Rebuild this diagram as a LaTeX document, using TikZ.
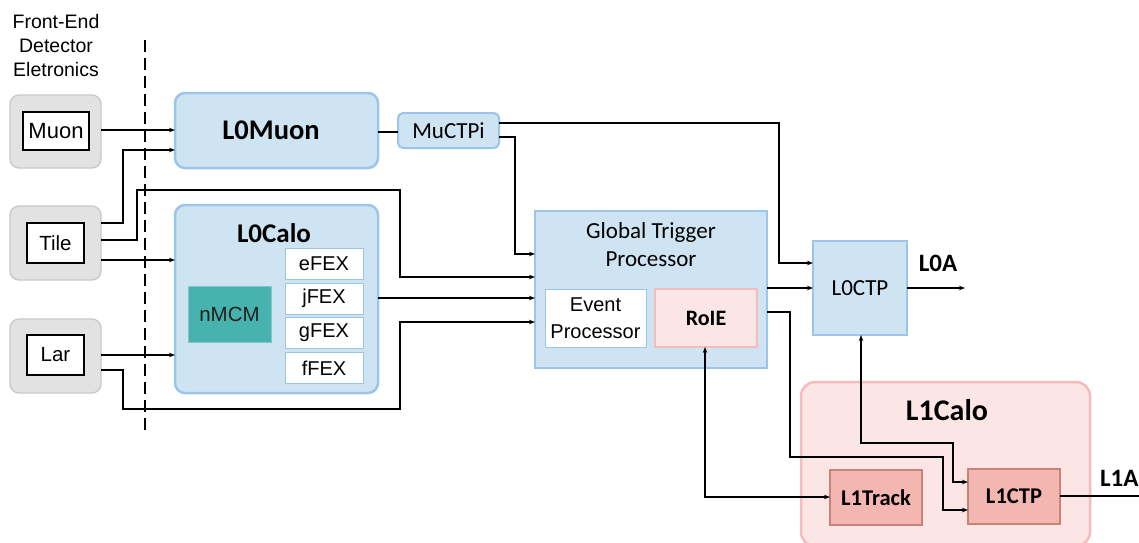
\documentclass[tikz,border=0pt]{standalone}
\usepackage{fontspec}
\setmainfont{Liberation Sans}
\newfontfamily\carl{Carlito}
\usetikzlibrary{arrows.meta}
\definecolor{bfill}{RGB}{207,228,243}
\definecolor{bdraw}{RGB}{157,197,232}
\definecolor{gfill}{RGB}{226,226,226}
\definecolor{gdraw}{RGB}{200,200,200}
\definecolor{pfill}{RGB}{252,229,229}
\definecolor{pdraw}{RGB}{245,188,188}
\definecolor{sfill}{RGB}{243,182,176}
\definecolor{sdraw}{RGB}{200,130,120}
\definecolor{teal2}{RGB}{72,178,174}
\tikzset{
  every node/.style={inner sep=0pt, outer sep=0pt},
  box/.style={draw, line width=1.3pt, align=center},
  grey/.style={box, fill=gfill, draw=gdraw, rounded corners=9pt},
  inner/.style={box, fill=white, draw=black, line width=1.3pt, font=\fontsize{20.5}{24}\selectfont},
  blueR/.style={box, fill=bfill, draw=bdraw, line width=2.5pt, rounded corners=10pt},
  blueS/.style={box, fill=bfill, draw=bdraw, line width=2.5pt},
  fex/.style={box, fill=white, draw=bdraw, line width=1pt, font=\fontsize{20}{24}\selectfont, minimum width=78pt, minimum height=31pt},
  salmon/.style={box, fill=sfill, draw=sdraw, line width=1.3pt, font=\carl\bfseries\fontsize{22.5}{26}\selectfont, minimum width=92pt, minimum height=55pt},
  conn/.style={line width=1.2pt},
  arr/.style={conn, -{Stealth[length=6pt,width=4.5pt]}},
  darr/.style={conn, {Stealth[length=6pt,width=4.5pt]}-{Stealth[length=6pt,width=4.5pt]}},
  title/.style={font=\carl\bfseries\fontsize{27}{30}\selectfont},
}
\begin{document}
\begin{tikzpicture}[x=1pt,y=-1pt]
\useasboundingbox (0,0) rectangle (1139,542);
% header
\node[align=center, font=\fontsize{19.5}{24}\selectfont] (fe) at (56,46) {Front-End\\Detector\\Eletronics};
\coordinate (dtop) at (145,40);
\coordinate (dbot) at (145,435);
\draw[line width=1.2pt, dash pattern=on 12pt off 6pt] (dtop) -- (dbot);
% detector boxes
\node[grey, minimum width=91pt, minimum height=73pt] (muon) at (55.5,131.5) {};
\node[inner, minimum width=66pt, minimum height=38pt, font=\fontsize{22}{24}\selectfont] (muonin) at (56,131) {Muon};
\node[grey, minimum width=91pt, minimum height=74pt] (tile) at (55.5,243) {};
\node[inner, minimum width=57pt, minimum height=40pt] (tilein) at (55.5,243) {Tile};
\node[grey, minimum width=91pt, minimum height=74pt] (lar) at (55.5,356) {};
\node[inner, minimum width=57pt, minimum height=40pt] (larin) at (55.5,355) {Lar};
% L0Muon
\node[blueR, minimum width=203pt, minimum height=75pt] (l0muon) at (276.5,130.5) {};
\node[font=\carl\bfseries\fontsize{28.5}{30}\selectfont] (l0muont) at (271,130) {L0Muon};
% L0Calo
\node[blueR, minimum width=203pt, minimum height=188pt] (l0calo) at (276.5,299) {};
\node[title] (l0calot) at (274,233) {L0Calo};
\node[fex] (efex) at (324,263.5) {eFEX};
\node[fex] (jfex) at (324,298.5) {jFEX};
\node[fex] (gfex) at (324,333) {gFEX};
\node[fex] (ffex) at (324,368) {fFEX};
\node[box, fill=teal2, draw=teal2!70!white, line width=1pt, minimum width=83pt, minimum height=56pt, text=black!88, font=\fontsize{20.5}{24}\selectfont] (nmcm) at (229.5,314) {nMCM};
% MuCTPi
\node[blueR, rounded corners=5pt, line width=2pt, minimum width=101pt, minimum height=35pt, font=\carl\fontsize{23}{26}\selectfont] (muctpi) at (448.5,130.5) {MuCTPi};
% GTP
\node[blueS, minimum width=232pt, minimum height=157pt] (gtp) at (651,289.5) {};
\node[align=center, font=\carl\fontsize{23}{28}\selectfont] (gtpt) at (651,245) {Global Trigger\\Processor};
\node[box, fill=white, draw=bdraw, line width=1pt, minimum width=101pt, minimum height=58pt, font=\fontsize{20}{27}\selectfont] (evp) at (595.5,318) {Event\\Processor};
\node[box, fill=pfill, draw=pdraw, line width=1.5pt, minimum width=102pt, minimum height=58pt, font=\carl\bfseries\fontsize{22}{26}\selectfont] (roie) at (706,318) {RoIE};
% L0CTP
\node[blueS, minimum width=94pt, minimum height=94pt, font=\carl\fontsize{23}{26}\selectfont] (l0ctp) at (860,288) {L0CTP};
\node[font=\carl\bfseries\fontsize{25}{28}\selectfont] (l0a) at (938,263) {L0A};
\coordinate (l0aend) at (965,288);
% L1Calo
\node[box, fill=pfill, draw=pdraw, line width=2.5pt, rounded corners=14pt, minimum width=289pt, minimum height=164pt] (l1calo) at (945.5,464) {};
\node[title, font=\carl\bfseries\fontsize{30}{34}\selectfont] (l1calot) at (947,410) {L1Calo};
\node[salmon] (l1track) at (876,497.5) {L1Track};
\node[salmon] (l1ctp) at (1014,496.5) {L1CTP};
\node[anchor=west, font=\carl\bfseries\fontsize{25}{28}\selectfont] (l1a) at (1100,478) {L1A};
\coordinate (l1aend) at (1145,496);
% connectors
\draw[arr] (muon.east |- 0,130) -- (l0muon.west |- 0,130);
\draw[arr] (tile.east |- 0,223) -- (123,223) -- (123,150) -- (l0muon.west |- 0,150);
\draw[arr] (tile.east |- 0,240) -- (137,240) -- (137,190) -- (400,190) -- (400,277) -- (gtp.west |- 0,277);
\draw[arr] (tile.east |- 0,260) -- (l0calo.west |- 0,260);
\draw[arr] (lar.east |- 0,355) -- (l0calo.west |- 0,355);
\draw[arr] (lar.east |- 0,370) -- (123,370) -- (123,409) -- (400,409) -- (400,322) -- (gtp.west |- 0,322);
\draw[arr] (l0calo.east |- 0,298) -- (gtp.west |- 0,298);
\draw[conn] (l0muon.east |- 0,132) -- (muctpi.west |- 0,132);
\draw[arr] (muctpi.east |- 0,123) -- (779,123) -- (779,263) -- (l0ctp.west |- 0,263);
\draw[arr] (muctpi.east |- 0,137) -- (515,137) -- (515,254) -- (gtp.west |- 0,254);
\draw[arr] (gtp.east |- 0,288) -- (l0ctp.west |- 0,288);
\draw[arr] (gtp.east |- 0,312) -- (790,312) -- (790,457) -- (943,457) -- (943,510) -- (l1ctp.west |- 0,510);
\draw[arr] (l0ctp.east) -- (l0aend);
\draw[conn] (l1ctp.east |- 0,496) -- (l1aend);
\draw[darr] (l0ctp.south -| 861,0) -- (861,443) -- (953,443) -- (953,482) -- (l1ctp.west |- 0,482);
\draw[darr] (roie.south -| 705,0) -- (705,497) -- (l1track.west |- 0,497);
\end{tikzpicture}
\end{document}
